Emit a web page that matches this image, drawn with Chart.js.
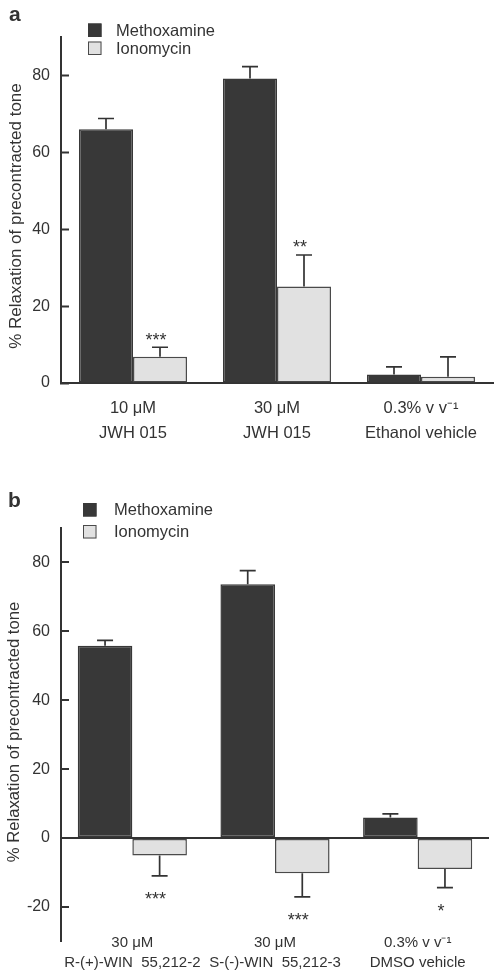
<!DOCTYPE html>
<html>
<head>
<meta charset="utf-8">
<script src="https://cdn.jsdelivr.net/npm/chart.js@4.4.1/dist/chart.umd.min.js"></script>
<style>
    html, body { margin: 0; padding: 0; background: #fff; }
    #wrapA { position: absolute; left: 0; top: 0; width: 495px; height: 460px; }
    #wrapB { position: absolute; left: 0; top: 460px; width: 495px; height: 510px; }
</style>
</head>
<body>
<div id="wrapA"><canvas id="chartA"></canvas></div>
<div id="wrapB"><canvas id="chartB"></canvas></div>
<script>
// panel a
const labelsA = [['10 μM', 'JWH 015'], ['30 μM', 'JWH 015'], ['0.3% v v⁻¹', 'Ethanol vehicle']];
const methoxA = [66.0, 79.2, 2.2];
const methoxErrA = [2.8, 3.1, 2.0];
const ionoA = [6.8, 25.1, 1.6];
const ionoErrA = [2.5, 8.2, 5.2];
const ionoSigA = ['***', '**', ''];

// panel b
const labelsB = [['30 μM', 'R-(+)-WIN  55,212-2'], ['30 μM', 'S-(-)-WIN  55,212-3'], ['0.3% v v⁻¹', 'DMSO vehicle']];
const methoxB = [55.8, 73.7, 6.0];
const methoxErrB = [1.6, 3.9, 1.0];
const ionoB = [-5.1, -10.2, -9.0];
const ionoErrB = [5.9, 6.9, 5.4];
const ionoSigB = ['***', '***', '*'];

const yTicks = [-20, 0, 20, 40, 60, 80];

const FONT = "'Liberation Sans', Arial, sans-serif";
const DARK = '#383838';
const LIGHT = '#e1e1e1';
const EDGE = '#4a4a4a';
const INK = '#333333';

// error bars, significance stars, legend, panel letter and y title
const panelDeco = {
    id: 'panelDeco',
    afterDatasetsDraw(chart, args, o) {
        const ctx = chart.ctx;
        const y = chart.scales.y;
        ctx.save();
        chart.data.datasets.forEach((ds, i) => {
            chart.getDatasetMeta(i).data.forEach((bar, j) => {
                const v = ds.data[j];
                const up = v >= 0;
                const end = y.getPixelForValue(up ? v + ds.errors[j] : v - ds.errors[j]);
                ctx.strokeStyle = INK;
                ctx.lineWidth = 1.7;
                ctx.beginPath();
                ctx.moveTo(bar.x, bar.y);
                ctx.lineTo(bar.x, end);
                ctx.moveTo(bar.x - 8, end);
                ctx.lineTo(bar.x + 8, end);
                ctx.stroke();
                const s = ds.stars ? ds.stars[j] : '';
                if (s) {
                    const cy = up ? end - o.starUp : end + o.starDown;
                    ctx.fillStyle = INK;
                    ctx.font = '18px ' + FONT;
                    ctx.textAlign = 'center';
                    ctx.textBaseline = 'alphabetic';
                    ctx.fillText(s, bar.x - 4, cy + 0.57 * 18);
                }
            });
        });
        ctx.restore();
    },
    afterDraw(chart, args, o) {
        const ctx = chart.ctx;
        ctx.save();
        ctx.fillStyle = INK;
        ctx.font = 'bold 21px ' + FONT;
        ctx.textAlign = 'left';
        ctx.textBaseline = 'alphabetic';
        ctx.fillText(o.letter, o.letterX, o.letterY);

        chart.data.datasets.forEach((ds, i) => {
            const cy = o.legendY + i * o.legendGap;
            ctx.fillStyle = ds.backgroundColor;
            ctx.fillRect(o.legendX, cy - 6.5, 13.5, 13.5);
            ctx.strokeStyle = ds.borderColor;
            ctx.lineWidth = 1;
            ctx.strokeRect(o.legendX + 0.5, cy - 6, 12.5, 12.5);
            ctx.fillStyle = INK;
            ctx.font = '16.5px ' + FONT;
            ctx.textBaseline = 'middle';
            ctx.fillText(ds.label, o.legendTextX, cy + 1);
        });

        ctx.translate(o.titleX, o.titleY);
        ctx.rotate(-Math.PI / 2);
        ctx.font = o.titleSize + 'px ' + FONT;
        ctx.textAlign = 'center';
        ctx.textBaseline = 'middle';
        ctx.fillText('% Relaxation of precontracted tone', 0, 0);
        ctx.restore();
    }
};

function keepTicks(scale) {
    scale.ticks = yTicks.filter(v => v >= scale.min && v <= scale.max).map(v => ({ value: v }));
}

new Chart(document.getElementById('chartA'), {
    type: 'bar',
    data: {
        labels: labelsA,
        datasets: [{
            label: 'Methoxamine',
            data: methoxA,
            errors: methoxErrA,
            backgroundColor: DARK,
            borderColor: DARK,
            borderWidth: 1.5,
            borderSkipped: false
        }, {
            label: 'Ionomycin',
            data: ionoA,
            errors: ionoErrA,
            stars: ionoSigA,
            backgroundColor: LIGHT,
            borderColor: EDGE,
            borderWidth: 1.5,
            borderSkipped: false
        }]
    },
    options: {
        responsive: true,
        maintainAspectRatio: false,
        animation: false,
        categoryPercentage: 0.75,
        barPercentage: 1.0,
        layout: { padding: { top: 37, right: 2, left: 0, bottom: 0 } },
        plugins: {
            legend: { display: false },
            tooltip: { enabled: false },
            panelDeco: {
                letter: 'a', letterX: 9, letterY: 21,
                legendX: 88, legendY: 30, legendGap: 18, legendTextX: 116,
                titleX: 16, titleY: 216, titleSize: 17,
                starUp: 12, starDown: 19
            }
        },
        scales: {
            x: {
                grid: { display: false, drawTicks: false },
                border: { display: true, color: INK, width: 2 },
                ticks: { color: INK, font: { family: FONT, size: 16.5, lineHeight: 1.5 }, padding: 13, maxRotation: 0, autoSkip: false },
                afterFit: s => { s.height = 77; }
            },
            y: {
                min: 0,
                max: 90,
                afterBuildTicks: keepTicks,
                ticks: { color: INK, font: { family: FONT, size: 16 }, padding: 19 },
                grid: { drawOnChartArea: false, tickLength: -8, tickColor: INK, tickWidth: 2 },
                border: { color: INK, width: 2 },
                afterFit: s => { s.width = 61; }
            }
        }
    },
    plugins: [panelDeco]
});

new Chart(document.getElementById('chartB'), {
    type: 'bar',
    data: {
        labels: labelsB,
        datasets: [{
            label: 'Methoxamine',
            data: methoxB,
            errors: methoxErrB,
            backgroundColor: DARK,
            borderColor: DARK,
            borderWidth: 1.5,
            borderSkipped: false
        }, {
            label: 'Ionomycin',
            data: ionoB,
            errors: ionoErrB,
            stars: ionoSigB,
            backgroundColor: LIGHT,
            borderColor: EDGE,
            borderWidth: 1.5,
            borderSkipped: false
        }]
    },
    options: {
        responsive: true,
        maintainAspectRatio: false,
        animation: false,
        categoryPercentage: 0.765,
        barPercentage: 1.0,
        layout: { padding: { top: 68, right: 6, left: 0, bottom: 0 } },
        plugins: {
            legend: { display: false },
            tooltip: { enabled: false },
            panelDeco: {
                letter: 'b', letterX: 8, letterY: 47,
                legendX: 83, legendY: 49.5, legendGap: 22, legendTextX: 114,
                titleX: 14, titleY: 272, titleSize: 16.7,
                starUp: 12, starDown: 19
            }
        },
        scales: {
            x: {
                grid: { display: false, drawTicks: false },
                border: { display: false },
                // mirror keeps the labels from being clipped to the short scale box
                ticks: { color: INK, font: { family: FONT, size: 15, lineHeight: 1.33 }, mirror: true, padding: -11, maxRotation: 0, autoSkip: false },
                afterFit: s => { s.height = 25; }
            },
            y: {
                min: -30,
                max: 90,
                afterBuildTicks: keepTicks,
                ticks: { color: INK, font: { family: FONT, size: 16 }, padding: 19 },
                grid: {
                    drawOnChartArea: true,
                    color: c => (c.tick && c.tick.value === 0 ? INK : 'rgba(0,0,0,0)'),
                    lineWidth: 2,
                    tickLength: -8,
                    tickColor: INK,
                    tickWidth: 2
                },
                border: { color: INK, width: 2 },
                afterFit: s => { s.width = 61; }
            }
        }
    },
    plugins: [panelDeco]
});
</script>
</body>
</html>
